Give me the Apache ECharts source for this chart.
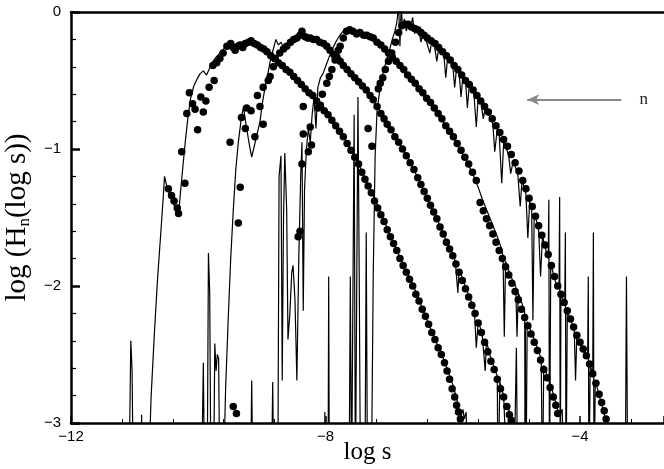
<!DOCTYPE html>
<html>
<head>
<meta charset="utf-8">
<script src="https://cdn.jsdelivr.net/npm/echarts@6/dist/echarts.min.js"></script>
<style>
html,body{margin:0;padding:0;background:#fff;}
#c{width:664px;height:469px;}
</style>
</head>
<body>
<div id="c"></div>
<script>
// ---- axis settings / tick labels ----
var xTicks = [-12, -8, -4];
var yTicks = [-3, -2, -1, 0];
var xName = 'log s';
var arrowLabel = 'n';

// ---- scatter (dots) series, [log s, log H] ----
var dots1 = [[-10.47,-1.29],[-10.42,-1.34],[-10.38,-1.38],[-10.33,-1.43],[-10.31,-1.47],[-10.21,-1.25],[-10.26,-1.02],[-10.18,-0.74],[-10.14,-0.59],[-10.09,-0.67],[-10.05,-0.71],[-10.01,-0.86],[-9.96,-0.62],[-9.92,-0.73],[-9.88,-0.65],[-9.83,-0.55],[-9.77,-0.39],[-9.75,-0.50],[-9.71,-0.37],[-9.66,-0.34],[-9.61,-0.30],[-9.55,-0.25],[-9.49,-0.23],[-9.45,-0.26],[-9.42,-0.28],[-9.38,-0.25],[-9.34,-0.24],[-9.30,-0.26],[-9.26,-0.23],[-9.21,-0.22],[-9.17,-0.21],[-9.12,-0.23],[-9.07,-0.24],[-9.02,-0.26],[-8.97,-0.27],[-8.92,-0.29],[-8.86,-0.32],[-8.80,-0.34],[-8.74,-0.37],[-8.68,-0.39],[-8.62,-0.42],[-8.56,-0.44],[-8.50,-0.47],[-8.44,-0.50],[-8.38,-0.53],[-8.32,-0.56],[-8.26,-0.59],[-8.20,-0.61],[-8.14,-0.65],[-8.08,-0.68],[-8.02,-0.72],[-7.96,-0.75],[-7.90,-0.79],[-7.84,-0.83],[-7.78,-0.87],[-7.72,-0.91],[-7.66,-0.96],[-7.60,-1.01],[-7.54,-1.06],[-7.48,-1.11],[-7.43,-1.17],[-7.38,-1.22],[-7.33,-1.27],[-7.28,-1.32],[-7.23,-1.38],[-7.18,-1.43],[-7.13,-1.48],[-7.08,-1.53],[-7.03,-1.59],[-6.98,-1.64],[-6.93,-1.69],[-6.88,-1.74],[-6.83,-1.80],[-6.78,-1.85],[-6.73,-1.90],[-6.68,-1.95],[-6.63,-2.00],[-6.58,-2.06],[-6.53,-2.11],[-6.48,-2.17],[-6.43,-2.22],[-6.38,-2.28],[-6.33,-2.34],[-6.28,-2.39],[-6.23,-2.45],[-6.18,-2.50],[-6.13,-2.56],[-6.09,-2.62],[-6.05,-2.68],[-6.01,-2.75],[-5.97,-2.81],[-5.94,-2.87],[-5.91,-2.92],[-5.88,-2.97]];

var dots2 = [[-9.45,-2.88],[-9.40,-2.93],[-9.37,-1.54],[-9.50,-0.95],[-9.34,-1.28],[-9.32,-0.77],[-9.26,-0.85],[-9.24,-0.70],[-9.17,-0.72],[-9.11,-0.91],[-9.07,-0.61],[-9.03,-0.69],[-8.98,-0.55],[-8.98,-0.82],[-8.90,-0.50],[-8.87,-0.47],[-8.82,-0.40],[-8.79,-0.34],[-8.72,-0.30],[-8.66,-0.27],[-8.61,-0.25],[-8.55,-0.22],[-8.50,-0.20],[-8.45,-0.19],[-8.40,-0.17],[-8.37,-0.14],[-8.32,-0.18],[-8.28,-0.19],[-8.24,-0.19],[-8.19,-0.20],[-8.14,-0.20],[-8.09,-0.22],[-8.03,-0.23],[-7.98,-0.25],[-7.93,-0.28],[-7.87,-0.31],[-7.82,-0.33],[-7.77,-0.36],[-7.72,-0.39],[-7.66,-0.42],[-7.60,-0.45],[-7.54,-0.48],[-7.48,-0.51],[-7.42,-0.54],[-7.36,-0.57],[-7.30,-0.61],[-7.25,-0.64],[-7.19,-0.69],[-7.13,-0.74],[-7.08,-0.78],[-7.03,-0.82],[-6.97,-0.86],[-6.91,-0.91],[-6.85,-0.95],[-6.79,-1.00],[-6.73,-1.05],[-6.67,-1.10],[-6.61,-1.15],[-6.55,-1.21],[-6.50,-1.26],[-6.45,-1.31],[-6.40,-1.36],[-6.35,-1.41],[-6.30,-1.46],[-6.25,-1.51],[-6.20,-1.57],[-6.15,-1.62],[-6.10,-1.68],[-6.05,-1.73],[-6.00,-1.78],[-5.95,-1.84],[-5.90,-1.90],[-5.85,-1.96],[-5.80,-2.02],[-5.75,-2.08],[-5.70,-2.14],[-5.65,-2.20],[-5.60,-2.27],[-5.55,-2.34],[-5.50,-2.41],[-5.45,-2.48],[-5.40,-2.55],[-5.35,-2.61],[-5.30,-2.68],[-5.25,-2.75],[-5.20,-2.81],[-5.15,-2.88],[-5.11,-2.94],[-5.08,-2.98]];

var dots3 = [[-8.43,-1.64],[-8.40,-1.60],[-8.37,-1.11],[-8.35,-0.89],[-8.35,-0.69],[-8.27,-1.02],[-8.24,-0.84],[-8.22,-0.97],[-8.12,-0.70],[-8.05,-0.60],[-7.98,-0.52],[-7.94,-0.47],[-7.90,-0.42],[-7.85,-0.35],[-7.80,-0.28],[-7.77,-0.25],[-7.72,-0.19],[-7.67,-0.14],[-7.62,-0.13],[-7.57,-0.14],[-7.51,-0.16],[-7.46,-0.15],[-7.40,-0.17],[-7.35,-0.17],[-7.30,-0.18],[-7.25,-0.19],[-7.19,-0.22],[-7.13,-0.24],[-7.07,-0.27],[-7.01,-0.30],[-6.95,-0.33],[-6.89,-0.36],[-6.83,-0.39],[-6.77,-0.42],[-6.71,-0.46],[-6.65,-0.49],[-6.59,-0.52],[-6.53,-0.56],[-6.47,-0.59],[-6.41,-0.63],[-6.35,-0.66],[-6.29,-0.70],[-6.23,-0.74],[-6.17,-0.78],[-6.11,-0.83],[-6.05,-0.87],[-5.99,-0.91],[-5.93,-0.96],[-5.87,-1.01],[-5.81,-1.06],[-5.75,-1.11],[-5.69,-1.17],[-5.63,-1.23],[-5.57,-1.39],[-5.52,-1.45],[-5.47,-1.51],[-5.42,-1.56],[-5.37,-1.62],[-5.32,-1.68],[-5.27,-1.74],[-5.22,-1.80],[-5.17,-1.86],[-5.12,-1.92],[-5.07,-1.98],[-5.02,-2.04],[-4.97,-2.10],[-4.92,-2.17],[-4.87,-2.23],[-4.82,-2.29],[-4.77,-2.35],[-4.72,-2.41],[-4.67,-2.47],[-4.62,-2.54],[-4.57,-2.61],[-4.52,-2.67],[-4.47,-2.74],[-4.42,-2.81],[-4.38,-2.87],[-4.35,-2.93]];

var dots4 = [[-7.33,-0.85],[-7.27,-0.98],[-7.17,-0.56],[-7.14,-0.52],[-7.10,-0.48],[-7.06,-0.42],[-7.01,-0.36],[-6.96,-0.30],[-6.90,-0.22],[-6.85,-0.15],[-6.80,-0.10],[-6.75,-0.09],[-6.70,-0.09],[-6.65,-0.11],[-6.60,-0.12],[-6.55,-0.13],[-6.50,-0.15],[-6.45,-0.17],[-6.40,-0.19],[-6.34,-0.21],[-6.28,-0.23],[-6.22,-0.26],[-6.16,-0.29],[-6.10,-0.32],[-6.04,-0.35],[-5.98,-0.39],[-5.92,-0.42],[-5.86,-0.46],[-5.80,-0.50],[-5.74,-0.53],[-5.68,-0.57],[-5.62,-0.61],[-5.56,-0.65],[-5.50,-0.69],[-5.44,-0.73],[-5.38,-0.78],[-5.32,-0.83],[-5.26,-0.88],[-5.20,-0.93],[-5.14,-0.98],[-5.08,-1.04],[-5.02,-1.10],[-4.96,-1.16],[-4.90,-1.23],[-4.85,-1.29],[-4.80,-1.36],[-4.75,-1.42],[-4.70,-1.49],[-4.65,-1.56],[-4.60,-1.63],[-4.55,-1.70],[-4.50,-1.77],[-4.45,-1.85],[-4.40,-1.93],[-4.35,-2.00],[-4.30,-2.06],[-4.25,-2.12],[-4.20,-2.18],[-4.15,-2.24],[-4.10,-2.30],[-4.05,-2.36],[-4.00,-2.41],[-3.95,-2.46],[-3.90,-2.51],[-3.85,-2.57],[-3.80,-2.64],[-3.75,-2.71],[-3.70,-2.79],[-3.66,-2.85],[-3.62,-2.91],[-3.59,-2.97]];

// ---- thin noisy line series (values of -3.5 are below the axis floor) ----
var line1 = [[-11.09,-3.5],[-11.06,-2.40],[-11.04,-2.62],[-11.02,-3.5],[-10.91,-3.5],[-10.89,-2.94],[-10.87,-3.5],[-10.79,-3.5],[-10.74,-2.80],[-10.69,-2.35],[-10.64,-1.95],[-10.59,-1.62],[-10.55,-1.35],[-10.53,-1.20],[-10.50,-1.26],[-10.46,-1.32],[-10.41,-1.38],[-10.36,-1.43],[-10.31,-1.48],[-10.28,-1.32],[-10.24,-1.12],[-10.20,-0.93],[-10.16,-0.76],[-10.12,-0.63],[-10.07,-0.54],[-10.02,-0.49],[-9.97,-0.45],[-9.92,-0.43],[-9.87,-0.46],[-9.83,-0.42],[-9.78,-0.37],[-9.72,-0.33],[-9.66,-0.30],[-9.60,-0.27],[-9.54,-0.24],[-9.48,-0.25],[-9.42,-0.24],[-9.36,-0.22],[-9.30,-0.23],[-9.24,-0.21],[-9.18,-0.20],[-9.12,-0.22],[-9.06,-0.24],[-9.00,-0.26],[-8.94,-0.28],[-8.88,-0.31],[-8.82,-0.33],[-8.76,-0.36],[-8.70,-0.38],[-8.64,-0.41],[-8.58,-0.43],[-8.52,-0.46],[-8.46,-0.49],[-8.40,-0.52],[-8.34,-0.55],[-8.28,-0.58],[-8.22,-0.60],[-8.16,-0.64],[-8.10,-0.67],[-8.04,-0.70],[-7.98,-0.74],[-7.92,-0.78],[-7.86,-0.82],[-7.80,-0.86],[-7.74,-0.90],[-7.68,-0.94],[-7.62,-0.99],[-7.56,-1.04],[-7.50,-1.09],[-7.44,-1.15],[-7.38,-1.21],[-7.32,-1.27],[-7.26,-1.33],[-7.20,-1.39],[-7.14,-1.46],[-7.08,-1.52],[-7.02,-1.59],[-6.96,-1.65],[-6.90,-1.72],[-6.84,-1.78],[-6.78,-1.84],[-6.72,-1.90],[-6.66,-1.96],[-6.60,-2.02],[-6.54,-2.09],[-6.48,-2.16],[-6.42,-2.23],[-6.36,-2.30],[-6.30,-2.36],[-6.24,-2.43],[-6.18,-2.49],[-6.12,-2.56],[-6.06,-2.64],[-6.00,-2.72],[-5.95,-2.80],[-5.91,-2.88],[-5.87,-2.95],[-5.84,-2.90],[-5.82,-2.97],[-5.79,-2.92],[-5.76,-3.5]];

var line2 = [[-9.95,-3.5],[-9.92,-2.56],[-9.90,-3.5],[-9.86,-3.5],[-9.84,-1.76],[-9.82,-2.05],[-9.80,-3.5],[-9.76,-3.5],[-9.74,-2.42],[-9.72,-2.62],[-9.70,-2.50],[-9.68,-2.53],[-9.66,-3.5],[-9.61,-3.5],[-9.57,-2.75],[-9.53,-2.25],[-9.49,-1.80],[-9.45,-1.45],[-9.41,-1.15],[-9.37,-0.95],[-9.33,-0.80],[-9.29,-0.69],[-9.25,-0.82],[-9.20,-0.96],[-9.16,-1.06],[-9.12,-0.98],[-9.07,-0.88],[-9.03,-0.80],[-8.99,-0.66],[-8.95,-0.55],[-8.91,-0.46],[-8.87,-0.36],[-8.82,-0.27],[-8.78,-0.20],[-8.74,-0.24],[-8.70,-0.22],[-8.66,-0.26],[-8.62,-0.24],[-8.58,-0.22],[-8.54,-0.20],[-8.50,-0.19],[-8.46,-0.18],[-8.42,-0.17],[-8.38,-0.15],[-8.34,-0.17],[-8.30,-0.18],[-8.26,-0.19],[-8.22,-0.19],[-8.18,-0.20],[-8.12,-0.21],[-8.06,-0.22],[-8.00,-0.24],[-7.94,-0.27],[-7.88,-0.30],[-7.82,-0.33],[-7.76,-0.36],[-7.70,-0.40],[-7.64,-0.43],[-7.58,-0.46],[-7.52,-0.49],[-7.46,-0.52],[-7.40,-0.55],[-7.34,-0.59],[-7.28,-0.62],[-7.22,-0.67],[-7.16,-0.71],[-7.10,-0.76],[-7.04,-0.81],[-6.98,-0.85],[-6.92,-0.90],[-6.86,-0.94],[-6.80,-0.99],[-6.74,-1.04],[-6.68,-1.09],[-6.62,-1.14],[-6.56,-1.20],[-6.50,-1.26],[-6.44,-1.32],[-6.38,-1.38],[-6.32,-1.44],[-6.26,-1.50],[-6.20,-1.56],[-6.14,-1.63],[-6.08,-1.69],[-6.02,-1.75],[-5.96,-1.82],[-5.92,-2.05],[-5.90,-1.88],[-5.84,-1.95],[-5.78,-2.03],[-5.72,-2.10],[-5.66,-2.18],[-5.63,-2.45],[-5.60,-2.26],[-5.54,-2.34],[-5.49,-2.62],[-5.47,-2.40],[-5.42,-2.50],[-5.36,-2.58],[-5.30,-2.66],[-5.29,-3.5],[-5.26,-2.70],[-5.20,-2.80],[-5.14,-3.5],[-5.12,-2.90],[-5.07,-2.97],[-5.04,-3.5],[-5.01,-3.5],[-5.00,-2.45],[-4.98,-3.5],[-4.87,-3.5],[-4.86,-2.27],[-4.84,-3.5]];

var line3 = [[-9.18,-3.5],[-9.16,-2.69],[-9.14,-3.5],[-8.85,-3.5],[-8.83,-2.70],[-8.81,-3.5],[-8.75,-3.5],[-8.73,-1.20],[-8.70,-1.05],[-8.68,-2.69],[-8.66,-1.50],[-8.64,-1.03],[-8.61,-1.45],[-8.59,-2.39],[-8.56,-2.20],[-8.53,-1.90],[-8.51,-1.85],[-8.48,-2.10],[-8.45,-2.69],[-8.42,-1.80],[-8.39,-1.20],[-8.37,-0.95],[-8.35,-2.18],[-8.33,-1.30],[-8.30,-1.00],[-8.27,-0.85],[-8.24,-0.95],[-8.21,-0.75],[-8.18,-0.62],[-8.15,-0.85],[-8.12,-0.55],[-8.08,-0.48],[-8.04,-0.45],[-8.00,-0.40],[-7.96,-0.35],[-7.92,-0.30],[-7.88,-0.26],[-7.84,-0.22],[-7.80,-0.19],[-7.76,-0.16],[-7.72,-0.14],[-7.68,-0.12],[-7.64,-0.13],[-7.60,-0.12],[-7.56,-0.14],[-7.52,-0.13],[-7.48,-0.15],[-7.44,-0.16],[-7.40,-0.16],[-7.36,-0.18],[-7.32,-0.18],[-7.28,-0.20],[-7.22,-0.22],[-7.16,-0.24],[-7.10,-0.26],[-7.04,-0.29],[-6.98,-0.32],[-6.92,-0.35],[-6.86,-0.38],[-6.80,-0.41],[-6.74,-0.44],[-6.68,-0.48],[-6.62,-0.51],[-6.56,-0.55],[-6.50,-0.58],[-6.44,-0.62],[-6.38,-0.65],[-6.32,-0.69],[-6.26,-0.73],[-6.20,-0.77],[-6.14,-0.81],[-6.08,-0.85],[-6.02,-0.89],[-5.96,-0.94],[-5.90,-0.99],[-5.84,-1.04],[-5.78,-1.09],[-5.72,-1.15],[-5.66,-1.21],[-5.60,-1.28],[-5.54,-1.36],[-5.48,-1.43],[-5.42,-1.50],[-5.36,-1.57],[-5.30,-1.64],[-5.24,-1.72],[-5.21,-1.78],[-5.19,-2.37],[-5.17,-1.82],[-5.11,-1.90],[-5.05,-1.97],[-5.01,-2.00],[-4.99,-2.37],[-4.97,-2.05],[-4.91,-2.13],[-4.87,-2.19],[-4.85,-3.5],[-4.83,-2.26],[-4.77,-2.33],[-4.71,-2.40],[-4.65,-2.48],[-4.61,-2.53],[-4.59,-3.5],[-4.57,-2.58],[-4.51,-2.66],[-4.45,-2.74],[-4.40,-2.82],[-4.36,-2.89],[-4.32,-2.95],[-4.28,-2.90],[-4.25,-3.5]];

var line4 = [[-8.02,-3.5],[-8.01,-2.92],[-8.00,-3.5],[-7.96,-3.5],[-7.95,-1.93],[-7.94,-3.5],[-7.63,-3.5],[-7.61,-1.93],[-7.59,-3.5],[-7.57,-3.5],[-7.55,-0.75],[-7.53,-3.5],[-7.50,-3.5],[-7.49,-0.62],[-7.47,-1.93],[-7.45,-3.5],[-7.38,-3.5],[-7.36,-1.61],[-7.34,-3.5],[-7.28,-3.5],[-7.25,-1.92],[-7.22,-1.05],[-7.19,-0.72],[-7.15,-0.58],[-7.11,-0.47],[-7.07,-0.40],[-7.03,-0.33],[-6.99,-0.27],[-6.95,-0.20],[-6.91,-0.14],[-6.88,-0.08],[-6.85,0.05],[-6.83,-0.25],[-6.81,0.05],[-6.79,-0.12],[-6.76,-0.05],[-6.73,-0.14],[-6.70,-0.09],[-6.67,-0.13],[-6.63,-0.04],[-6.60,-0.16],[-6.57,-0.11],[-6.53,-0.14],[-6.50,-0.22],[-6.47,-0.15],[-6.43,-0.19],[-6.40,-0.18],[-6.36,-0.30],[-6.33,-0.21],[-6.29,-0.24],[-6.25,-0.36],[-6.22,-0.26],[-6.18,-0.28],[-6.14,-0.31],[-6.11,-0.48],[-6.08,-0.33],[-6.04,-0.36],[-6.00,-0.39],[-5.97,-0.55],[-5.94,-0.41],[-5.90,-0.44],[-5.87,-0.62],[-5.84,-0.47],[-5.80,-0.50],[-5.77,-0.70],[-5.74,-0.53],[-5.70,-0.56],[-5.67,-0.58],[-5.63,-0.84],[-5.60,-0.62],[-5.56,-0.65],[-5.52,-0.78],[-5.49,-0.70],[-5.45,-0.74],[-5.41,-0.77],[-5.37,-0.82],[-5.34,-1.02],[-5.30,-0.85],[-5.27,-0.90],[-5.23,-1.25],[-5.20,-0.95],[-5.16,-0.99],[-5.12,-1.05],[-5.09,-1.18],[-5.05,-1.09],[-5.02,-1.13],[-4.98,-1.17],[-4.94,-1.42],[-4.91,-1.22],[-4.88,-1.28],[-4.85,-1.33],[-4.82,-1.65],[-4.79,-1.38],[-4.76,-1.43],[-4.74,-2.25],[-4.72,-1.47],[-4.68,-1.53],[-4.65,-1.59],[-4.62,-1.93],[-4.59,-1.64],[-4.56,-1.69],[-4.53,-1.75],[-4.50,-1.80],[-4.49,-1.37],[-4.48,-3.5],[-4.46,-1.84],[-4.43,-1.89],[-4.40,-1.95],[-4.36,-2.00],[-4.33,-2.02],[-4.32,-1.35],[-4.31,-3.5],[-4.30,-2.05],[-4.27,-2.09],[-4.24,-2.13],[-4.23,-1.61],[-4.22,-3.5],[-4.20,-2.18],[-4.16,-2.23],[-4.12,-2.28],[-4.09,-2.33],[-4.07,-2.69],[-4.05,-2.36],[-4.00,-2.42],[-3.96,-2.46],[-3.92,-2.50],[-3.88,-2.52],[-3.87,-1.93],[-3.86,-3.5],[-3.84,-2.58],[-3.80,-2.64],[-3.79,-1.61],[-3.78,-3.5],[-3.76,-2.70],[-3.72,-2.76],[-3.68,-2.83],[-3.64,-2.90],[-3.60,-2.97],[-3.57,-3.5],[-3.29,-3.5],[-3.27,-1.93],[-3.25,-3.5]];

// arrow annotation (data coords)
var arrowFrom = [-3.35, -0.64];
var arrowTo = [-4.83, -0.64];
var arrowLabelAt = [-3.0, -0.64];

var chart = echarts.init(document.getElementById('c'), null, {renderer: 'canvas'});
var minus = function (v) { return String(v).replace('-', '\u2212'); };
var sans = "'Liberation Sans', Arial, Helvetica, sans-serif";
var serif = "'Liberation Serif', 'Times New Roman', serif";

function lineSeries(d) {
  return {type: 'line', data: d, symbol: 'none', showSymbol: false, clip: true, silent: true,
    lineStyle: {color: '#000', width: 1.2}, z: 2, animation: false};
}
function dotSeries(d) {
  return {type: 'scatter', data: d, symbol: 'circle', symbolSize: 7.5, clip: true, silent: true,
    itemStyle: {color: '#000', opacity: 1}, z: 3, animation: false};
}

var series = [lineSeries(line1), lineSeries(line2), lineSeries(line3), lineSeries(line4),
  dotSeries(dots1), dotSeries(dots2), dotSeries(dots3), dotSeries(dots4)];
series.push({
  type: 'scatter', data: [], silent: true, animation: false,
  markLine: {
    silent: true, animation: false, symbol: ['none', 'arrow'], symbolSize: [8, 12],
    lineStyle: {color: '#888', width: 2, type: 'solid'}, label: {show: false},
    data: [[{coord: arrowFrom}, {coord: arrowTo}]]
  },
  markPoint: {
    silent: true, animation: false, symbol: 'circle', symbolSize: 0,
    label: {show: true, formatter: arrowLabel, color: '#222', fontFamily: serif, fontSize: 17, position: 'inside'},
    data: [{coord: arrowLabelAt}]
  }
});

chart.setOption({
  animation: false,
  backgroundColor: '#fff',
  grid: {left: 71, right: 0, top: 12, bottom: 46, containLabel: false, outerBoundsMode: 'none'},
  xAxis: [{
    type: 'value', min: xTicks[0], max: -2.68, interval: 4,
    name: xName, nameLocation: 'middle', nameGap: 17, nameMoveOverlap: false,
    nameTextStyle: {fontFamily: serif, fontSize: 25, color: '#000'},
    axisLine: {show: true, onZero: false, lineStyle: {color: '#000', width: 2.5}},
    axisTick: {show: true, inside: true, length: 7, lineStyle: {color: '#000', width: 1.5}},
    minorTick: {show: true, splitNumber: 5, length: 4, lineStyle: {color: '#000', width: 1}},
    splitLine: {show: false}, minorSplitLine: {show: false},
    axisLabel: {color: '#000', fontFamily: sans, fontSize: 15, margin: 6,
      formatter: function (v) { return xTicks.indexOf(Math.round(v * 1000) / 1000) >= 0 ? minus(v) : ''; }}
  }, {
    type: 'value', position: 'top', min: xTicks[0], max: -2.68,
    axisLine: {show: true, onZero: false, lineStyle: {color: '#000', width: 2.5}},
    axisTick: {show: false}, axisLabel: {show: false}, splitLine: {show: false}
  }],
  yAxis: {
    type: 'value', min: yTicks[0], max: yTicks[yTicks.length - 1], interval: 1,
    name: '{t|log (H}{s|n}{t|(log s))}', nameLocation: 'middle', nameGap: 38, nameRotate: 90, nameMoveOverlap: false,
    nameTextStyle: {color: '#000', rich: {
      t: {fontFamily: serif, fontSize: 29, color: '#000'},
      s: {fontFamily: serif, fontSize: 17, color: '#000', padding: [15, 0, 0, 0]}
    }},
    axisLine: {show: true, onZero: false, lineStyle: {color: '#000', width: 2.5}},
    axisTick: {show: true, inside: true, length: 9, lineStyle: {color: '#000', width: 2.5}},
    minorTick: {show: true, splitNumber: 5, length: 5, lineStyle: {color: '#000', width: 1.2}},
    splitLine: {show: false}, minorSplitLine: {show: false},
    axisLabel: {color: '#000', fontFamily: sans, fontSize: 15, margin: 10, formatter: minus}
  },
  series: series
});
</script>
</body>
</html>
